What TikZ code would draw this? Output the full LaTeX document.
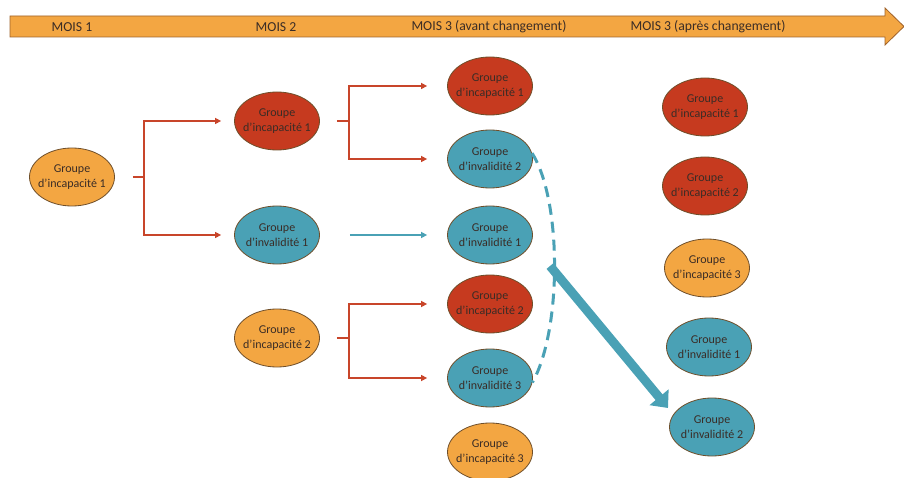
\documentclass[tikz,border=0pt]{standalone}
\usepackage{fontspec}
\setmainfont{Carlito}
\usetikzlibrary{shapes.geometric,arrows.meta}
\definecolor{orangefill}{HTML}{F3A642}
\definecolor{redfill}{HTML}{C63A1F}
\definecolor{bluefill}{HTML}{4AA1B5}
\definecolor{rimbrown}{HTML}{6E4E2A}
\definecolor{redline}{HTML}{C8452A}
\definecolor{txtdark}{HTML}{3A2C26}
\definecolor{bannerrim}{HTML}{A0622A}
\tikzset{
  grp/.style={ellipse, draw=rimbrown, line width=0.8pt, minimum width=85pt,
    minimum height=58pt, inner xsep=-5pt, inner ysep=0pt, align=center, text=txtdark,
    font=\fontsize{12}{15}\selectfont},
  incap/.style={grp, fill=orangefill},
  incapred/.style={grp, fill=redfill},
  inval/.style={grp, fill=bluefill},
  redlink/.style={draw=redline, line width=1.4pt},
  redarrow/.style={redlink, -{Triangle[length=6pt,width=6pt]}},
  bluearrow/.style={draw=bluefill, line width=1.4pt, -{Triangle[length=6pt,width=6pt]}},
  dashlink/.style={draw=bluefill, line width=3pt, dash pattern=on 11pt off 7pt},
  bigarrow/.style={draw=bluefill, line width=9pt, -{Triangle[length=14pt,width=24pt]}},
  monthlabel/.style={font=\fontsize{13.7}{16}\selectfont, text=txtdark, inner sep=0pt}
}
\begin{document}
\begin{tikzpicture}[x=1pt,y=-1pt]
\useasboundingbox (0,0) rectangle (904,478);
% time banner
\draw[fill=orangefill, draw=bannerrim, line width=0.8pt]
  (10,16) -- (885,16) -- (885,8) -- (904,26.5) -- (885,45) -- (885,37) -- (10,37) -- cycle;
\node[monthlabel] (t1) at (72,27) {MOIS 1};
\node[monthlabel] (t2) at (276,27) {MOIS 2};
\node[monthlabel] (t3) at (489,27) {MOIS 3 (avant changement)};
\node[monthlabel] (t4) at (708,27) {MOIS 3 (après changement)};

% month 1
\node[incap] (m1i1) at (72,177) {Groupe\\d’incapacité 1};
% month 2
\node[incapred] (m2i1) at (277,121) {Groupe\\d’incapacité 1};
\node[inval] (m2v1) at (277,235) {Groupe\\d’invalidité 1};
\node[incap] (m2i2) at (277,338) {Groupe\\d’incapacité 2};
% month 3 before
\node[incapred] (ai1) at (490,86) {Groupe\\d’incapacité 1};
\node[inval] (av2) at (490,159) {Groupe\\d’invalidité 2};
\node[inval] (av1) at (490,235) {Groupe\\d’invalidité 1};
\node[incapred] (ai2) at (490,304) {Groupe\\d’incapacité 2};
\node[inval] (av3) at (490,378) {Groupe\\d’invalidité 3};
\node[incap] (ai3) at (490,452) {Groupe\\d’incapacité 3};
% month 3 after
\node[incapred] (bi1) at (705,107) {Groupe\\d’incapacité 1};
\node[incapred] (bi2) at (705,186) {Groupe\\d’incapacité 2};
\node[incap] (bi3) at (707,268) {Groupe\\d’incapacité 3};
\node[inval] (bv1) at (709,347) {Groupe\\d’invalidité 1};
\node[inval] (bv2) at (712,427) {Groupe\\d’invalidité 2};

% forks
\coordinate (f1) at (144,177);
\draw[redlink, shorten <=18pt] (m1i1.east) -- (f1);
\draw[redarrow, shorten >=13pt] (f1) |- (m2i1.west);
\draw[redarrow, shorten >=13pt] (f1) |- (m2v1.west);

\coordinate (f2) at (349,121);
\draw[redlink, shorten <=17pt] (m2i1.east) -- (f2);
\draw[redarrow, shorten >=20pt] (f2) |- (ai1.west);
\draw[redarrow, shorten >=20pt] (f2) |- (av2.west);

\draw[bluearrow, shorten <=30pt, shorten >=20pt] (m2v1.east) -- (av1.west);

\coordinate (f3) at (349,338);
\draw[redlink, shorten <=17pt] (m2i2.east) -- (f3);
\draw[redarrow, shorten >=20pt] (f3) |- (ai2.west);
\draw[redarrow, shorten >=20pt] (f3) |- (av3.west);

% reassignment
\draw[dashlink] (av2.8) .. controls (562,200) and (562,330) .. (av3.-6);
\coordinate (ms) at (550,266);
\coordinate (mt) at (668,408);
\draw[bigarrow] (ms) -- (mt);
\end{tikzpicture}
\end{document}
